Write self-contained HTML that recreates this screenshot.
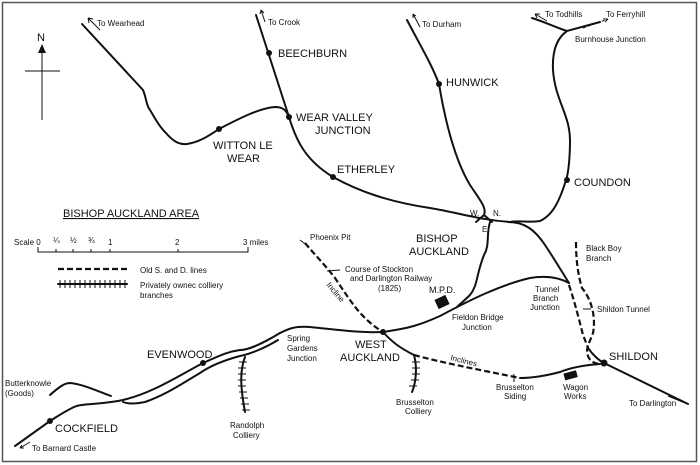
<!DOCTYPE html>
<html><head><meta charset="utf-8"><style>
html,body{margin:0;padding:0;background:#fff}
svg{display:block}
text{font-family:"Liberation Sans",sans-serif;fill:#111}
.b{font-size:11px}
.s{font-size:8px}
</style></head><body>
<svg width="700" height="465" viewBox="0 0 700 465">
<rect x="2.5" y="2.5" width="694" height="459" fill="none" stroke="#555" stroke-width="1.5"/>
<g fill="none" stroke="#111" stroke-width="2" stroke-linecap="round">
<path d="M82,24 L143,90 C147,100 146,105 150,110 C155,118 158,125 165,132 C172,140 178,145 187,144 C200,142 210,135 219,129 C240,118 260,108 275,107 C283,107 286,110 289,117"/>
<path d="M256,15 L289,117 C296,140 305,160 333,177 C360,192 390,202 430,208 C460,213 480,220 510,222"/>
<path d="M407,20 C420,45 432,65 439,84 C445,120 455,160 470,185 C480,200 487,208 484,215 L476,222 M484,215 L492,222"/>
<path d="M532,18 C545,22 557,28 567,31 L600,22 M567,31 C557,38 552,50 553,70 C555,100 570,115 570,140 C570,160 568,175 566,180 C560,200 553,215 540,221 C528,223 518,220 510,222"/>
<path d="M490,222 C486,235 490,245 484,255 C476,275 478,285 470,295 C465,300 460,304 457,307"/>
<path d="M508,222 C525,222 535,230 545,245 C555,260 562,272 569,283"/>
<path d="M280,333 C290,328 296,326 310,327 C340,330 360,333 383,332 C410,328 420,325 440,316 C470,300 500,285 530,278 C548,275 560,278 569,283"/>
<path d="M588,348 C593,355 598,360 604,363 L688,404"/>
<path d="M600,364 C585,365 570,368 560,372 C545,376 530,378 520,378"/>
<path d="M383,332 C392,342 400,348 414,355"/>
<path d="M280,333 C265,342 250,350 240,350 C225,352 215,358 203,363 C180,375 150,395 118,401 C95,405 80,403 72,408 C62,413 55,418 50,421 L15,446"/>
<path d="M278,340 C265,348 250,354 240,356 C225,360 210,366 200,373 C180,385 165,395 145,402 C135,404 128,404 123,402"/>
<path d="M50,395 C58,388 64,383 70,383 C82,384 95,390 111,396"/>
<path d="M245,357 C240,370 240,385 245,412"/>
<path d="M414,355 C418,370 415,385 412,392"/>
<path d="M58,284 L127,284"/>
</g>
<g stroke="#111" stroke-width="1">
<path d="M60,280v8M65,280v8M70,280v8M75,280v8M80,280v8M85,280v8M90,280v8M95,280v8M100,280v8M105,280v8M110,280v8M115,280v8M120,280v8M125,280v8"/>
<path d="M239,362h8M238,368h8M238,374h8M238,380h8M238,386h8M239,392h8M240,398h8M241,404h8M242,410h8"/>
<path d="M412,362h8M412,368h8M412,374h8M411,380h8M409,386h8"/>
<path d="M25,71h35M42,48v72"/>
<path d="M300,240l8,6M514,374v8"/>
</g>
<g fill="none" stroke="#111" stroke-width="2.2" stroke-dasharray="6,3">
<path d="M58,269 L127,269"/>
<path d="M305,243 C315,255 325,265 335,278 C350,300 360,318 383,332"/>
<path d="M414,355 C440,362 470,368 520,378"/>
<path d="M576,242 C576,260 578,275 582,288 C592,300 596,318 593,333 C590,342 585,348 588,356 C590,362 596,364 600,364"/>
<path d="M569,285 C574,300 578,315 583,335 C585,340 587,345 588,348"/>
</g>
<g fill="#111">
<circle cx="269" cy="53" r="3"/><circle cx="289" cy="117" r="3"/><circle cx="219" cy="129" r="3"/>
<circle cx="333" cy="177" r="3"/><circle cx="439" cy="84" r="3"/><circle cx="567" cy="180" r="3"/>
<circle cx="203" cy="363" r="3"/><circle cx="50" cy="421" r="3"/><circle cx="383" cy="332" r="3"/>
<circle cx="604" cy="363" r="3.5"/>
<rect x="436" y="297" width="12" height="10" transform="rotate(-25 442 302)"/>
<rect x="564" y="372" width="13" height="7" transform="rotate(-15 570 375)"/>
<path d="M42,44 L38,53 L46,53 Z"/>
</g>
<g stroke="#111" stroke-width="1" fill="none">
<path d="M100,30 L88,18 M88,18 l1,5 M88,18 l5,1"/>
<path d="M265,22 L261,10 M261,10 l-1,4 M261,10 l3,3"/>
<path d="M420,27 L413,14 M413,14 l0,4 M413,14 l3,2"/>
<path d="M547,21 L535,14 M535,14 l5,0 M535,14 l2,4"/>
<path d="M583,28 L608,19" stroke-dasharray="3,2"/><path d="M608,19 l-5,0 M608,19 l-3,3"/>
<path d="M340,270 L327,271"/><path d="M591,309 L583,309"/>
<path d="M30,442 L20,448 M20,448 l4,0 M20,448 l2,-3"/>
<path d="M668,396 L685,403"/>
</g>
<text class="b" x="37" y="41">N</text>
<text class="s" x="97" y="26">To Wearhead</text>
<text class="s" x="268" y="25">To Crook</text>
<text class="s" x="422" y="27">To Durham</text>
<text class="s" x="545" y="17">To Todhills</text>
<text class="s" x="606" y="17">To Ferryhill</text>
<text class="s" x="575" y="42">Burnhouse Junction</text>
<text class="b" x="278" y="57">BEECHBURN</text>
<text class="b" x="446" y="86">HUNWICK</text>
<text class="b" x="296" y="121">WEAR VALLEY</text>
<text class="b" x="315" y="134">JUNCTION</text>
<text class="b" x="213" y="149">WITTON LE</text>
<text class="b" x="227" y="162">WEAR</text>
<text class="b" x="337" y="173">ETHERLEY</text>
<text class="b" x="574" y="186">COUNDON</text>
<text class="b" x="63" y="217" style="text-decoration:underline">BISHOP AUCKLAND AREA</text>
<text class="s" x="470" y="216">W.</text><text class="s" x="493" y="216">N.</text><text class="s" x="482" y="232">E.</text>
<text class="b" x="416" y="242">BISHOP</text>
<text class="b" x="409" y="255">AUCKLAND</text>
<text class="s" x="14" y="245">Scale 0</text>
<text class="s" x="53" y="243">¼</text><text class="s" x="70" y="243">½</text><text class="s" x="88" y="243">¾</text>
<text class="s" x="108" y="245">1</text><text class="s" x="175" y="245">2</text><text class="s" x="243" y="245">3 miles</text>
<path d="M38,247v5h210v-5M56,249v3M73,249v3M91,249v3M110,249v3M178,249v3" stroke="#111" fill="none" stroke-width="1"/>
<text class="s" x="140" y="273">Old S. and D. lines</text>
<text class="s" x="140" y="288">Privately ownec colliery</text>
<text class="s" x="140" y="298">branches</text>
<text class="s" x="310" y="240">Phoenix Pit</text>
<text class="s" x="345" y="272">Course of Stockton</text>
<text class="s" x="350" y="281">and Darlington Railway</text>
<text class="s" x="378" y="291">(1825)</text>
<text class="s" x="326" y="285" transform="rotate(50 326 285)">Incline</text>
<text class="b" x="429" y="293" style="font-size:9px">M.P.D.</text>
<text class="s" x="586" y="251">Black Boy</text>
<text class="s" x="586" y="261">Branch</text>
<text class="s" x="535" y="292">Tunnel</text>
<text class="s" x="533" y="301">Branch</text>
<text class="s" x="530" y="310">Junction</text>
<text class="s" x="597" y="312">Shildon Tunnel</text>
<text class="s" x="452" y="320">Fieldon Bridge</text>
<text class="s" x="462" y="330">Junction</text>
<text class="s" x="287" y="341">Spring</text>
<text class="s" x="287" y="351">Gardens</text>
<text class="s" x="287" y="361">Junction</text>
<text class="b" x="355" y="348">WEST</text>
<text class="b" x="340" y="361">AUCKLAND</text>
<text class="b" x="147" y="358">EVENWOOD</text>
<text class="b" x="609" y="360">SHILDON</text>
<text class="s" x="450" y="360" transform="rotate(14 450 360)">Inclines</text>
<text class="s" x="5" y="386">Butterknowle</text>
<text class="s" x="5" y="396">(Goods)</text>
<text class="b" x="55" y="432">COCKFIELD</text>
<text class="s" x="32" y="451">To Barnard Castle</text>
<text class="s" x="230" y="428">Randolph</text>
<text class="s" x="233" y="438">Colliery</text>
<text class="s" x="396" y="405">Brusselton</text>
<text class="s" x="405" y="414">Colliery</text>
<text class="s" x="496" y="390">Brusselton</text>
<text class="s" x="504" y="399">Siding</text>
<text class="s" x="563" y="390">Wagon</text>
<text class="s" x="564" y="399">Works</text>
<text class="s" x="629" y="406">To Darlington</text>
</svg>
</body></html>
